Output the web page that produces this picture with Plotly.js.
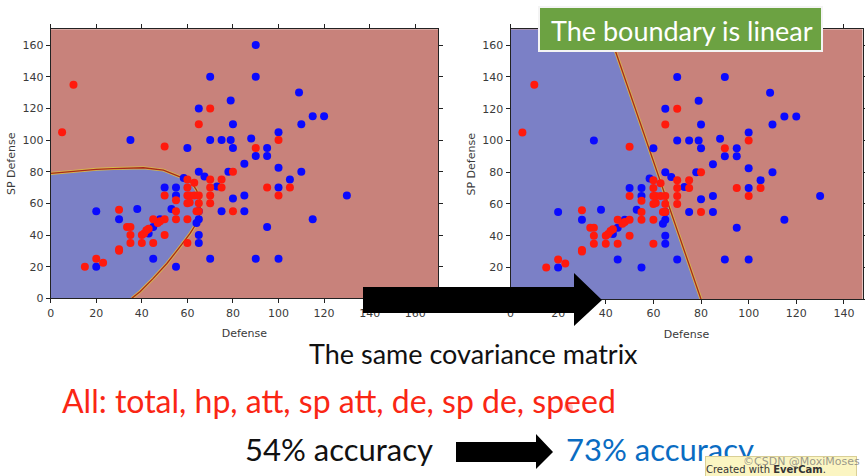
<!DOCTYPE html>
<html>
<head>
<meta charset="utf-8">
<script src="https://cdn.plot.ly/plotly-3.0.1.min.js"></script>
<style>html,body{margin:0;padding:0;background:#fff;}#chart{width:865px;height:476px;}</style>
</head>
<body>
<div id="chart"></div>
<script>
// ---- data ----
var redX = [10, 5, 50, 70, 65, 90, 100, 80, 60, 63, 70, 75, 75, 70, 70, 70, 60, 60, 61, 63, 65, 60, 61, 65, 64, 65, 55, 55, 55, 60, 50, 50, 48, 47, 45, 50, 45, 40, 40, 41, 42, 43, 35, 35, 33.5, 35, 30, 30, 30, 20, 23, 15, 60, 80, 95, 100, 105];
var redY = [135, 105, 96, 120, 110, 95, 100, 80, 75, 73, 75, 75, 70, 70, 65, 60, 70, 65, 65, 65, 65, 60, 60.6, 60, 55, 55, 62, 55, 50, 50, 65, 50, 48.7, 47.6, 50, 40, 35, 35, 40, 41, 43, 44, 35, 40, 45, 45, 56, 31, 30, 25, 22.5, 20, 35, 55, 70, 65, 70];
var blueX = [90, 70, 90, 109, 115, 120, 110, 80, 79, 65, 35, 60, 70, 75, 79, 80, 88, 90, 95, 95, 100, 100, 110, 105, 100, 130, 115, 95, 85, 85, 85, 80, 75, 78, 65, 67.5, 58.4, 73, 50, 55, 55, 53, 65, 65, 64, 65, 65, 70, 90, 100, 45, 55, 20, 20, 30, 38, 45, 43, 48];
var blueY = [160, 140, 140, 130, 115, 115, 110, 110, 125, 120, 100, 95, 100, 100, 100, 95, 101, 90, 95, 90, 105, 82.5, 80, 75, 70, 65, 50, 45, 85, 65, 55, 63, 55, 80, 80, 77, 76, 70.6, 70, 70, 65, 56.4, 55, 50, 47.6, 40, 35, 25, 25, 25, 25, 20, 20, 55, 50, 56.4, 45, 41, 50];
// decision boundary (left: quadratic, right: linear)
var leftBoundX = [0, 10, 20, 27.5, 40.7, 49.5, 56.8, 61.9, 64, 65.6, 65.6, 64, 61.2, 56.8, 51, 45, 39.2, 35.6];
var leftBoundY = [78.9, 80.3, 81.5, 82, 82.5, 81, 76.8, 73, 68.4, 62, 53.7, 47.4, 41, 32.6, 22, 12.6, 4.2, 0];
var rightBoundX = [40.9, 80];
var rightBoundY = [170, 0];
var tickVals = [0, 20, 40, 60, 80, 100, 120, 140, 160];
var slideTitle = "The boundary is linear";
var line1 = "The same covariance matrix";
var line2 = "All: total, hp, att, sp att, de, sp de, speed";
var accBefore = "54% accuracy";
var accAfter = "73% accuracy";

// ---- styling ----
var W = 865, H = 476;
function px(x){ return x / W; }
function py(y){ return 1 - y / H; }
var redRegion = "#c8827b", blueRegion = "#7b80c6";
var boundaryCol = "#a8281c";

function regionTraces(bx, by, xa, ya, polyX, polyY){
  return [
    {type:"scatter", mode:"lines", x:polyX, y:polyY, fill:"toself", fillcolor:blueRegion,
     line:{width:0}, xaxis:xa, yaxis:ya, hoverinfo:"skip", showlegend:false},
    {type:"scatter", mode:"lines", x:bx, y:by, line:{color:"#d8b84a", width:3},
     xaxis:xa, yaxis:ya, hoverinfo:"skip", showlegend:false},
    {type:"scatter", mode:"lines", x:bx, y:by, line:{color:boundaryCol, width:1.3},
     xaxis:xa, yaxis:ya, hoverinfo:"skip", showlegend:false}
  ];
}
function pointTraces(xa, ya){
  return [
    {type:"scatter", mode:"markers", x:blueX, y:blueY, marker:{color:"#0a0aff", size:8, line:{width:0}},
     xaxis:xa, yaxis:ya, showlegend:false, cliponaxis:true},
    {type:"scatter", mode:"markers", x:redX, y:redY, marker:{color:"#ff1a0d", size:8, line:{width:0}},
     xaxis:xa, yaxis:ya, showlegend:false, cliponaxis:true}
  ];
}
var leftPolyX = [0].concat(leftBoundX);
var leftPolyY = [0].concat(leftBoundY);
var rightPolyX = [0, 0].concat(rightBoundX);
var rightPolyY = [0, 170].concat(rightBoundY);

var traces = []
  .concat(regionTraces(leftBoundX, leftBoundY, "x", "y", leftPolyX, leftPolyY))
  .concat(pointTraces("x", "y"))
  .concat(regionTraces(rightBoundX, rightBoundY, "x2", "y2", rightPolyX, rightPolyY))
  .concat(pointTraces("x2", "y2"));

var tickFont = {family:"DejaVu Sans", size:11, color:"#3a3a3a"};
function axis(domain, range, anchor, titleText, standoff){
  return {domain:domain, range:range, anchor:anchor, tickvals:tickVals, ticktext:tickVals.map(String),
    showgrid:false, zeroline:false, showline:true, linecolor:"#222", linewidth:1, mirror:"ticks",
    ticks:"outside", ticklen:4, tickcolor:"#222", tickfont:tickFont, fixedrange:true,
    title:{text:titleText, font:{family:"DejaVu Sans", size:11, color:"#3a3a3a"}, standoff:standoff}};
}
var dY1 = [py(298.3), py(29.3)];
var dY2 = [py(299.2), py(29.3)];

function poly(pts){
  return "M" + pts.map(function(p){ return px(p[0]) + "," + py(p[1]); }).join(" L") + " Z";
}
var bigArrow = poly([[363,287],[574,287],[574,273],[602,300],[574,326],[574,313],[363,313]]);
var smallArrow = poly([[456,442],[536,442],[536,434],[553,452],[536,469],[536,462],[456,462]]);

var layout = {
  width:W, height:H, margin:{l:0, r:0, t:0, b:0}, showlegend:false,
  paper_bgcolor:"#ffffff", plot_bgcolor:redRegion,
  xaxis: axis([px(50.7), px(438)], [0,170], "y", "Defense", 10),
  yaxis: axis(dY1, [0,170], "x", "SP Defense", 4),
  xaxis2: axis([px(510.5), px(862.5)], [0,147.8], "y2", "Defense", 10),
  yaxis2: axis(dY2, [0,170], "x2", "SP Defense", 4),
  shapes:[
    {type:"path", xref:"paper", yref:"paper", path:bigArrow, fillcolor:"#000", line:{width:0}, layer:"above"},
    {type:"path", xref:"paper", yref:"paper", path:smallArrow, fillcolor:"#000", line:{width:0}, layer:"above"},
    {type:"rect", xref:"paper", yref:"paper", x0:px(539), x1:px(822), y0:py(51), y1:py(7),
     fillcolor:"#6ca242", line:{color:"#f4f4f4", width:2}, layer:"above"},
    {type:"circle", xref:"paper", yref:"paper", x0:px(564), x1:px(573), y0:py(412), y1:py(403),
     fillcolor:"rgba(255,90,90,0.35)", line:{width:0}, layer:"above"}
  ],
  annotations:[
    {xref:"paper", yref:"paper", x:px(682), y:py(30), xanchor:"center", yanchor:"middle", showarrow:false,
     text:slideTitle, font:{family:"Lato", size:27, color:"#ffffff"}},
    {xref:"paper", yref:"paper", x:px(473.5), y:py(353), xanchor:"center", yanchor:"middle", showarrow:false,
     text:line1, font:{family:"Lato", size:27, color:"#111111"}},
    {xref:"paper", yref:"paper", x:px(338.5), y:py(400), xanchor:"center", yanchor:"middle", showarrow:false,
     text:line2, font:{family:"Lato", size:32, color:"#fa2614"}},
    {xref:"paper", yref:"paper", x:px(338.5), y:py(449), xanchor:"center", yanchor:"middle", showarrow:false,
     text:accBefore, font:{family:"Lato", size:31, color:"#111111"}},
    {xref:"paper", yref:"paper", x:px(659.5), y:py(449), xanchor:"center", yanchor:"middle", showarrow:false,
     text:accAfter, font:{family:"Lato", size:31, color:"#0a6cc2"}},
    {xref:"paper", yref:"paper", x:px(705), y:py(456), xanchor:"left", yanchor:"top", showarrow:false,
     align:"left", width:150, height:24, bgcolor:"#fbf5c2", bordercolor:"#d9cf96", borderwidth:1, borderpad:0,
     text:"Created with <b>EverCam</b>.", font:{family:"DejaVu Sans", size:10, color:"#333"}},
    {xref:"paper", yref:"paper", x:px(741), y:py(461), xanchor:"left", yanchor:"middle", showarrow:false,
     text:"©CSDN @MoxiMoses", font:{family:"DejaVu Sans", size:11, color:"rgba(120,120,120,0.75)"}}
  ]
};

Plotly.newPlot("chart", traces, layout, {staticPlot:true, displayModeBar:false});
</script>
</body>
</html>
